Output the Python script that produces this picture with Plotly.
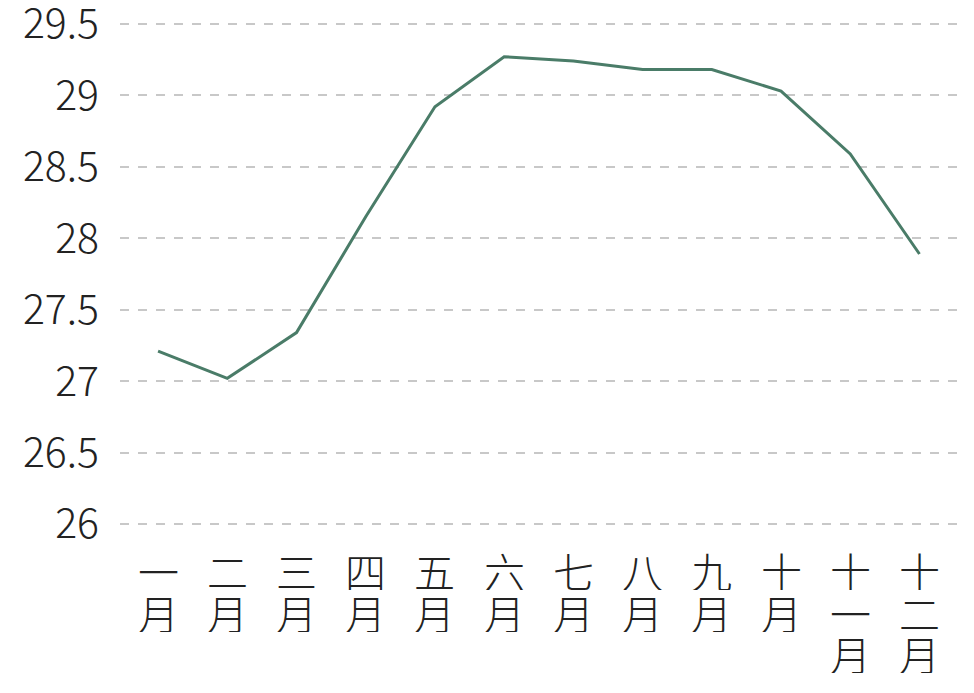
import plotly.graph_objects as go

months = ["一月", "二月", "三月", "四月", "五月", "六月",
          "七月", "八月", "九月", "十月", "十一月", "十二月"]
temps = [27.21, 27.02, 27.34, 28.15, 28.92, 29.27, 29.24, 29.18, 29.18, 29.03, 28.59, 27.89]
y_ticks = [26, 26.5, 27, 27.5, 28, 28.5, 29, 29.5]

fig = go.Figure(go.Scatter(
    x=months, y=temps, mode="lines",
    line=dict(color="#4a7c68", width=3),
))

font = dict(family="Noto Sans CJK SC", size=41, color="#222222", weight=300)

# vertical (stacked) category labels, one character per line
annotations = []
for m in months:
    for j, ch in enumerate(m):
        annotations.append(dict(
            x=m, xref="x", y=0, yref="paper", text=ch, showarrow=False,
            xanchor="center", yanchor="middle", yshift=-43 - 41.5 * j,
            height=40, font=font,
        ))

fig.update_layout(
    width=966, height=685,
    margin=dict(l=112, r=13, t=13, b=166, autoexpand=False),
    paper_bgcolor="white", plot_bgcolor="white",
    showlegend=False,
    font=font,
    annotations=annotations,
    xaxis=dict(
        type="category", range=[-0.55, 11.6], showgrid=False, zeroline=False,
        showline=False, ticks="", showticklabels=False, automargin=False,
    ),
    yaxis=dict(
        tickmode="array", tickvals=y_ticks, ticktext=[f"{v:g}" for v in y_ticks],
        range=[25.98, 29.52], showgrid=True, gridcolor="#c8c8c8", griddash="dash",
        gridwidth=1.5, zeroline=False, showline=False, ticks="", tickfont=font,
        ticklabelstandoff=20, automargin=False, ticklabeloverflow="allow",
    ),
)

fig.write_html("out.html")
